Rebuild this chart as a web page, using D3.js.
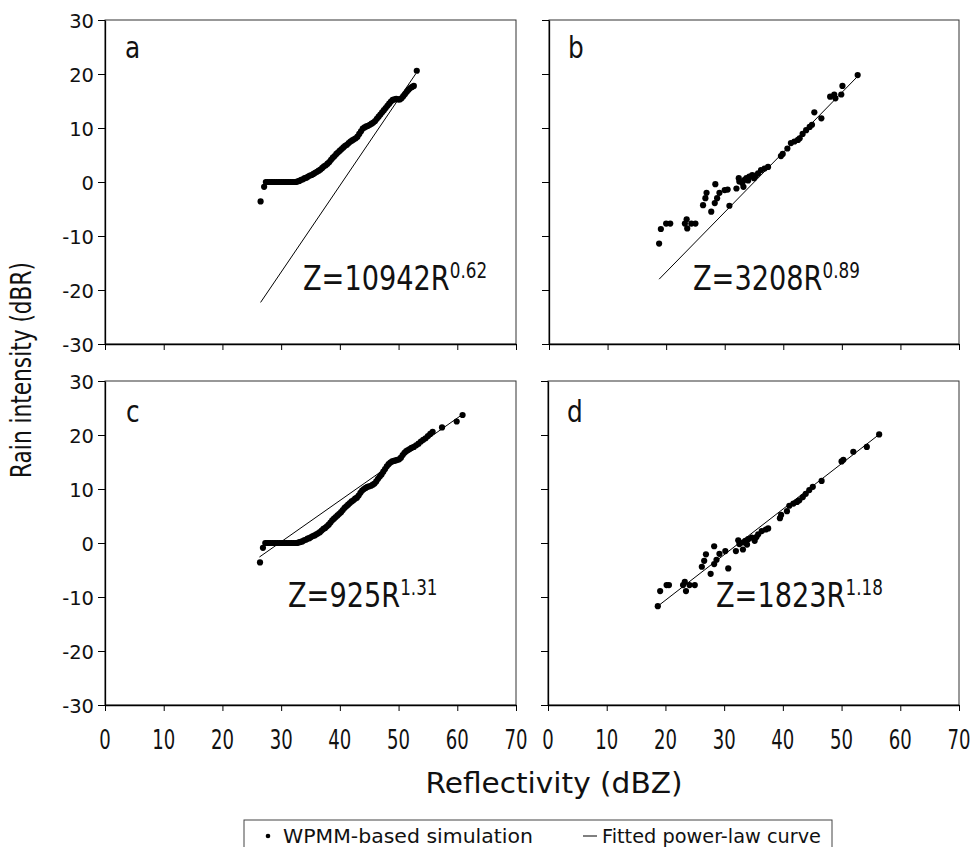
<!DOCTYPE html>
<html><head><meta charset="utf-8">
<script src="https://cdn.jsdelivr.net/npm/d3@7"></script>
<style>
body{margin:0;background:#fff}
svg{display:block}
text{font-family:"DejaVu Sans",Verdana,sans-serif;fill:#111}
</style>
</head><body>
<svg id="chart" width="972" height="847"></svg>
<script>
// ---------- data ----------
const xTicks = [0, 10, 20, 30, 40, 50, 60, 70];
const yTicks = [-30, -20, -10, 0, 10, 20, 30];
const panelLetters = ["a", "b", "c", "d"];
const eqCoef = ["10942", "3208", "925", "1823"];
const eqExp = ["0.62", "0.89", "1.31", "1.18"];
const xTitle = "Reflectivity (dBZ)";
const yTitle = "Rain intensity (dBR)";
const legendSim = "WPMM-based simulation";
const legendFit = "Fitted power-law curve";

// WPMM-based simulation points [dBZ, dBR]
const simA = [[26.5,-3.6],[27.1,-0.9],[27.4,0],[27.7,0],[28.0,0],[28.3,0],[28.6,0],[28.9,0],[29.2,0],[29.5,0],[29.8,0],[30.1,0],[30.4,0],[30.7,0],[31.0,0],[31.3,0],[31.6,0],[31.9,0],[32.2,0],[32.5,0],[32.8,0.1],
[33.1,0.2],[33.4,0.4],[33.7,0.5],[34.0,0.7],[34.3,0.8],[34.6,1.0],[34.9,1.2],[35.2,1.3],[35.5,1.5],[35.8,1.7],[36.1,1.9],[36.4,2.1],[36.7,2.3],[37.0,2.6],[37.3,2.9],[37.6,3.1],[37.9,3.4],[38.2,3.7],[38.5,4.1],[38.8,4.5],[39.1,4.8],[39.4,5.2],[39.7,5.5],[40.0,5.8],[40.3,6.1],[40.6,6.4],[40.9,6.7],[41.2,6.9],[41.5,7.2],[41.8,7.5],[42.1,7.7],[42.4,7.9],[42.7,8.1],[43.0,8.4],[43.3,8.9],[43.6,9.4],[43.9,9.9],[44.2,10.1],[44.5,10.3],[44.8,10.4],[45.1,10.6],[45.4,10.8],[45.7,11.0],[46.0,11.3],[46.3,11.7],[46.6,12.1],[46.9,12.5],[47.2,12.9],[47.5,13.3],[47.8,13.7],[48.1,14.1],[48.4,14.5],[48.7,14.9],[49.0,15.2],[49.3,15.3],[49.6,15.4],[49.9,15.3],[50.2,15.3],[50.5,15.5],[50.8,15.9],[51.1,16.3],[51.4,16.7],[51.7,17.1],[52.0,17.4],[52.3,17.6],[52.6,17.8],[53.1,20.6]];

const simB = [[18.8,-11.4],[19.1,-8.7],[20.0,-7.7],[20.7,-7.7],[23.2,-7.7],[23.5,-6.9],[23.6,-8.6],[24.3,-7.7],[25.0,-7.7],[26.3,-4.3],[26.7,-3.0],[26.9,-2.0],[27.7,-5.5],[28.3,-3.9],[28.4,-0.4],[28.7,-3.0],[29.1,-2.0],[30.0,-1.5],[30.5,-1.4],[30.8,-4.4],[32.0,-1.2],[32.4,0.7],[32.5,0.1],[33.0,-0.2],[33.2,-0.9],[33.4,0.4],[33.7,0.7],[34.0,0.3],[34.2,1.0],[34.7,1.3],[35.0,0.7],[35.3,1.2],[35.7,1.6],[36.2,2.2],[36.8,2.5],[37.4,2.8],[39.6,4.8],[39.9,5.2],[40.7,6.2],[41.3,7.2],[41.9,7.5],[42.5,7.8],[42.8,8.1],[43.3,8.9],[43.9,9.6],[44.5,10.2],[44.9,10.6],[45.3,12.9],[46.5,11.8],[48.0,15.8],[48.7,16.2],[48.9,15.5],[49.9,16.2],[50.1,17.8],[52.7,19.8]];

const simC = [[26.4,-3.6],[26.9,-0.9],[27.3,0],[27.6,0],[27.9,0],[28.2,0],[28.5,0],[28.8,0],[29.1,0],[29.4,0],[29.7,0],[30.0,0],[30.3,0],[30.6,0],[30.9,0],[31.2,0],[31.5,0],[31.8,0],[32.1,0],[32.4,0],[32.7,0],
[33.0,0.1],[33.3,0.2],[33.6,0.3],[33.9,0.5],[34.2,0.6],[34.5,0.8],[34.8,0.9],[35.1,1.1],[35.4,1.3],[35.7,1.4],[36.0,1.6],[36.3,1.8],[36.6,2.0],[36.9,2.3],[37.2,2.6],[37.5,2.8],[37.8,3.1],[38.1,3.4],[38.4,3.8],[38.7,4.2],[39.0,4.5],[39.3,4.8],[39.6,5.1],[39.9,5.4],[40.2,5.7],[40.5,6.1],[40.8,6.5],[41.1,6.8],[41.4,7.1],[41.7,7.4],[42.0,7.7],[42.3,7.9],[42.6,8.2],[42.9,8.4],[43.2,8.8],[43.5,9.3],[43.8,9.7],[44.1,10.0],[44.4,10.2],[44.7,10.4],[45.0,10.5],[45.3,10.6],[45.6,10.8],[45.9,11.0],[46.2,11.4],[46.5,11.9],[46.8,12.3],[47.1,12.7],[47.4,13.2],[47.7,13.7],[48.0,14.2],[48.3,14.6],[48.6,14.9],[48.9,15.1],[49.2,15.2],[49.5,15.3],[49.8,15.4],[50.1,15.5],[50.4,15.8],[50.7,16.3],[51.0,16.7],[51.3,17.0],[51.6,17.2],[51.9,17.4],[52.2,17.6],[52.6,17.8],[53.0,18.1],[53.4,18.4],[53.8,18.8],[54.2,19.1],[54.6,19.4],[55.0,19.8],[55.4,20.2],[55.8,20.6],[57.4,21.4],[59.9,22.5],[60.9,23.7]];

const simD = [[18.7,-11.7],[19.1,-8.9],[20.2,-7.8],[20.6,-7.8],[23.0,-7.8],[23.3,-7.2],[23.5,-8.9],[24.1,-7.8],[25.0,-7.8],[26.2,-4.4],[26.6,-3.3],[26.9,-2.1],[27.7,-5.7],[28.3,-3.9],[28.3,-0.6],[28.7,-3.1],[29.2,-2.0],[30.2,-1.5],[30.7,-4.7],[32.0,-1.5],[32.4,0.5],[32.6,-0.2],[33.2,-1.2],[33.3,0.1],[33.6,0.4],[33.9,-0.3],[34.1,0.7],[34.7,1.0],[35.2,0.4],[35.5,1.1],[35.8,1.6],[36.4,2.2],[37.1,2.5],[37.5,2.7],[39.5,4.6],[39.7,5.2],[40.7,5.9],[41.1,6.9],[41.8,7.3],[42.4,7.6],[42.8,7.9],[43.4,8.5],[43.9,9.1],[44.5,9.8],[45.1,10.4],[46.6,11.5],[50.0,15.1],[50.3,15.4],[52.0,16.9],[54.3,17.8],[56.4,20.1]];

// Fitted power-law curves (end points, [dBZ, dBR])
const fitA = [[26.5,-22.3],[52.9,20.0]];
const fitB = [[18.8,-18.0],[53.0,19.9]];
const fitC = [[26.3,-2.6],[61.0,23.9]];
const fitD = [[18.7,-11.7],[56.4,20.1]];

// ---------- layout ----------
const panels = [
  {sim: simA, fit: fitA, x0:105, x1:516, y0:20,  y1:344, yLabels:true,  xLabels:false, lx:125, ly:58,  ex:303, ey:290},
  {sim: simB, fit: fitB, x0:549, x1:959, y0:20,  y1:344, yLabels:false, xLabels:false, lx:568, ly:58,  ex:693, ey:290},
  {sim: simC, fit: fitC, x0:105, x1:516, y0:381, y1:705, yLabels:true,  xLabels:true,  lx:126, ly:422, ex:288, ey:607},
  {sim: simD, fit: fitD, x0:548, x1:959, y0:381, y1:705, yLabels:false, xLabels:true,  lx:567, ly:422, ex:716, ey:607}
];

const svg = d3.select("#chart");

function txt(g, x, y, s, size, sx, anchor){
  return g.append("text")
    .attr("transform", `translate(${x},${y}) scale(${sx},1)`)
    .attr("text-anchor", anchor)
    .attr("font-size", size)
    .text(s);
}

panels.forEach((p, i) => {
  const x = d3.scaleLinear().domain([0, 70]).range([p.x0, p.x1]);
  const y = d3.scaleLinear().domain([-30, 30]).range([p.y1, p.y0]);
  const g = svg.append("g");

  // frame (top / right)
  g.append("rect").attr("x", p.x0).attr("y", p.y0)
    .attr("width", p.x1 - p.x0).attr("height", p.y1 - p.y0)
    .attr("fill", "none").attr("stroke", "#333").attr("stroke-width", 1);

  // y axis
  const ya = d3.axisLeft(y).tickValues(yTicks).tickSize(7).tickSizeOuter(0)
    .tickFormat(p.yLabels ? (d => String(d)) : "");
  const yg = g.append("g").attr("transform", `translate(${p.x0},0)`).call(ya);
  yg.select(".domain").attr("stroke", "#000").attr("stroke-width", 1.3);
  yg.selectAll(".tick line").attr("stroke", "#000");
  yg.selectAll(".tick text").attr("font-size", 19.5).attr("x", -11).attr("dy", "0.36em")
    .attr("font-family", "DejaVu Sans").attr("fill", "#111");

  // x axis
  const xa = d3.axisBottom(x).tickValues(xTicks).tickSize(6).tickSizeOuter(0).tickFormat("");
  const xg = g.append("g").attr("transform", `translate(0,${p.y1})`).call(xa);
  xg.select(".domain").attr("stroke", "#000").attr("stroke-width", 1.3);
  xg.selectAll(".tick line").attr("stroke", "#000");
  if (p.xLabels) {
    xTicks.forEach(t => txt(g, x(t), 749, String(t), 27, 0.67, "middle"));
  }

  // fitted line
  g.append("path")
    .attr("d", d3.line().x(d => x(d[0])).y(d => y(d[1]))(p.fit))
    .attr("fill", "none").attr("stroke", "#000").attr("stroke-width", 1);

  // points
  g.selectAll("circle.pt").data(p.sim).enter().append("circle")
    .attr("class", "pt")
    .attr("cx", d => x(d[0])).attr("cy", d => y(d[1]))
    .attr("r", 3.1).attr("fill", "#000");

  // panel letter
  txt(g, p.lx, p.ly, panelLetters[i], 31, 0.8, "start");

  // equation
  const e = g.append("text")
    .attr("transform", `translate(${p.ex},${p.ey}) scale(0.8,1)`)
    .attr("font-size", 34);
  e.append("tspan").text("Z=" + eqCoef[i] + "R");
  e.append("tspan").attr("font-size", 21).attr("dy", -12).text(eqExp[i]);
});

// axis titles
svg.append("text")
  .attr("x", 554).attr("y", 793)
  .attr("text-anchor", "middle")
  .attr("font-size", 29)
  .attr("textLength", 257).attr("lengthAdjust", "spacingAndGlyphs")
  .text(xTitle);

svg.append("text")
  .attr("transform", "translate(31,370) rotate(-90)")
  .attr("text-anchor", "middle")
  .attr("font-size", 29)
  .attr("textLength", 216).attr("lengthAdjust", "spacingAndGlyphs")
  .text(yTitle);

// legend
const lg = svg.append("g");
lg.append("rect").attr("x", 244).attr("y", 820).attr("width", 588).attr("height", 40)
  .attr("fill", "none").attr("stroke", "#444").attr("stroke-width", 1);
lg.append("circle").attr("cx", 268).attr("cy", 836).attr("r", 2.3).attr("fill", "#000");
lg.append("text").attr("x", 283).attr("y", 843).attr("font-size", 20)
  .attr("textLength", 250).attr("lengthAdjust", "spacingAndGlyphs").text(legendSim);
lg.append("line").attr("x1", 583).attr("x2", 597).attr("y1", 836).attr("y2", 836)
  .attr("stroke", "#000").attr("stroke-width", 1);
lg.append("text").attr("x", 602).attr("y", 843).attr("font-size", 20)
  .attr("textLength", 219).attr("lengthAdjust", "spacingAndGlyphs").text(legendFit);
</script>
</body></html>
